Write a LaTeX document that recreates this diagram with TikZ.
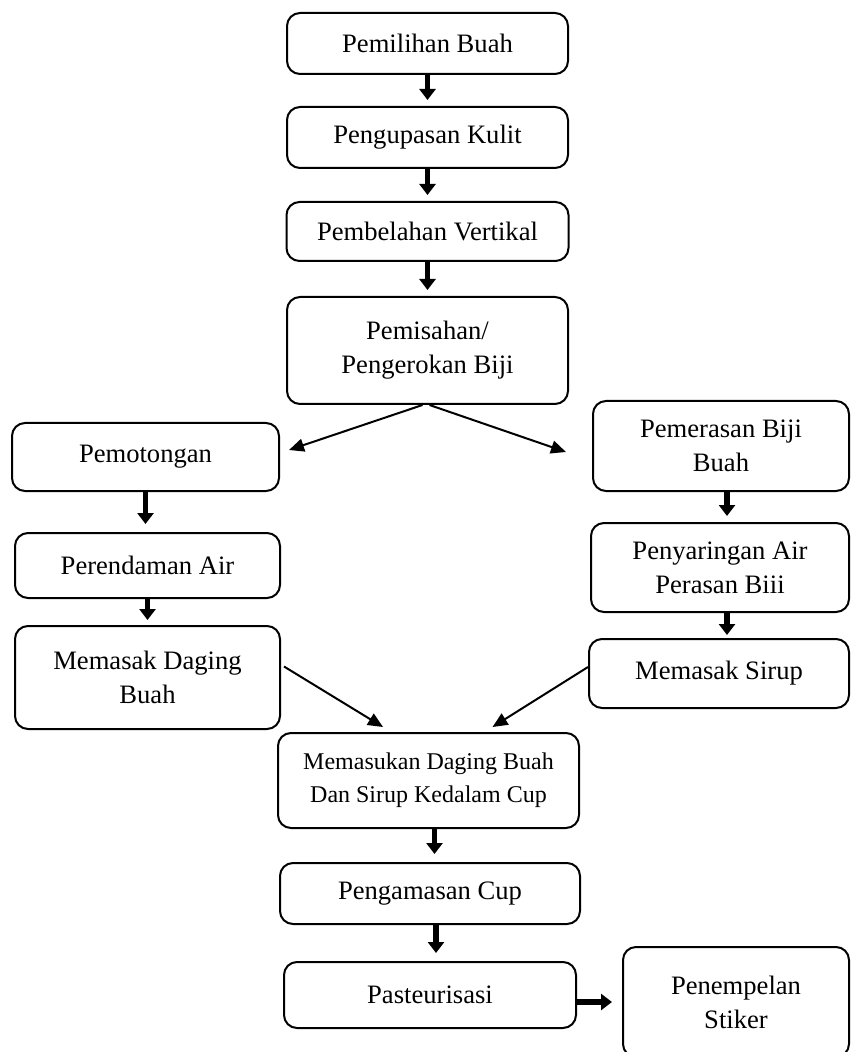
\documentclass[tikz,border=0pt]{standalone}
\usepackage{fontspec}
\setmainfont{Liberation Serif}
\usetikzlibrary{arrows.meta, positioning}

\begin{document}
\begin{tikzpicture}[x=0.5pt, y=-0.5pt,
    every node/.style={font=\fontsize{13.3}{17}\selectfont},
    box/.style={draw, line width=1pt, rounded corners=6.5pt, align=center, inner sep=2pt},
    fat/.style={-{Triangle[length=5.5pt, width=8pt]}, line width=2.8pt},
    arr/.style={-{Triangle[length=7.5pt, width=6.5pt]}, line width=1pt}
  ]
  \useasboundingbox (0,0) rectangle (851,1052);
  \clip (0,0) rectangle (851,1052);

  % middle column, top
  \node[box, minimum width=140.5pt, minimum height=30.5pt] (pilih) at (427.5,43.5) {Pemilihan Buah};
  \node[box, minimum width=140.5pt, minimum height=30.5pt, below=15.5pt of pilih] (kupas) {Pengupasan Kulit};
  \node[box, minimum width=141pt, minimum height=29.5pt, below=16pt of kupas] (belah) {Pembelahan Vertikal};
  \node[box, minimum width=140.5pt, minimum height=53.5pt, below=17pt of belah] (kerok) {Pemisahan/\\Pengerokan Biji};

  % left column
  \node[box, minimum width=133.5pt, minimum height=34pt] (potong) at (145.5,457) {Pemotongan};
  \node[box, minimum width=132.5pt, minimum height=32.5pt] (rendam) at (147.5,565.5) {Perendaman Air};
  \node[box, minimum width=132.5pt, minimum height=51.5pt] (daging) at (147.5,677.5) {Memasak Daging\\Buah};

  % right column
  \node[box, minimum width=128pt, minimum height=45pt] (peras) at (721,446) {Pemerasan Biji\\Buah};
  \node[box, minimum width=129pt, minimum height=44.5pt] (saring) at (720,567.5) {Penyaringan Air\\Perasan Biii};
  \node[box, minimum width=130pt, minimum height=34.5pt] (sirup) at (719,673.5) {Memasak Sirup};

  % middle column, bottom
  \node[box, minimum width=150.5pt, minimum height=47.5pt,
    font=\fontsize{12}{16.5}\selectfont] (cup) at (428.5,780.5) {Memasukan Daging Buah\\Dan Sirup Kedalam Cup};
  \node[box, minimum width=150pt, minimum height=30.5pt] (kemas) at (430,893.5) {Pengamasan Cup};
  \node[box, minimum width=146pt, minimum height=33pt] (pasteur) at (430,995) {Pasteurisasi};
  \node[box, minimum width=113pt, minimum height=55pt] (stiker) at (736,1002) {Penempelan\\Stiker};

  \draw[fat, shorten >=3pt] (pilih) -- (kupas);
  \draw[fat, shorten >=3pt] (kupas) -- (belah);
  \draw[fat, shorten >=3pt] (belah) -- (kerok);
  \draw[fat, shorten >=4pt] (potong.south) -- (potong.south |- rendam.north);
  \draw[fat, shorten >=2.5pt] (rendam) -- (daging);
  \draw[fat, shorten >=3pt] ([xshift=3pt]peras.south) -- ([xshift=3pt]peras.south |- saring.north);
  \draw[fat, shorten >=1.5pt] ([xshift=3.5pt]saring.south) -- ([xshift=3.5pt]saring.south |- sirup.north);
  \draw[fat, shorten >=4pt] ([xshift=3pt]cup.south) -- ([xshift=3pt]cup.south |- kemas.north);
  \draw[fat, shorten >=4pt] ([xshift=3pt]kemas.south) -- ([xshift=3pt]kemas.south |- pasteur.north);
  \draw[fat, shorten >=5pt] (pasteur.east |- stiker.center) -- (stiker.west);

  \draw[arr] ([xshift=-2.5pt]kerok.south) -- ([xshift=4.5pt, yshift=3.5pt]potong.east);
  \draw[arr] ([xshift=1pt]kerok.south) -- ([xshift=-13pt, yshift=-3pt]peras.west);
  \draw[arr] ([xshift=1.5pt, yshift=5.5pt]daging.east) -- ([xshift=-22.75pt, yshift=2.5pt]cup.north);
  \draw[arr] ([yshift=3.25pt]sirup.west) -- ([xshift=32pt, yshift=2.5pt]cup.north);
\end{tikzpicture}
\end{document}
